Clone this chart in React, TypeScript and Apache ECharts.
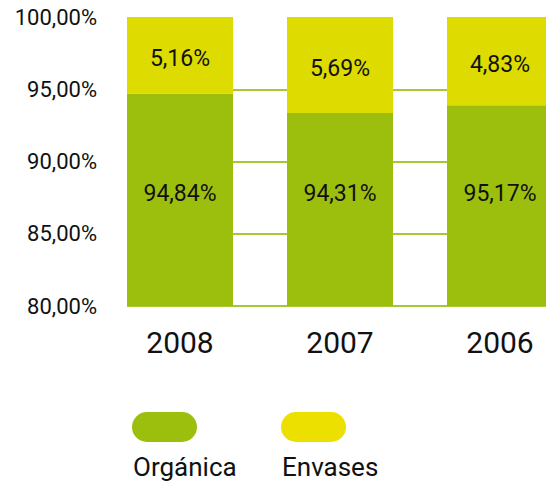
import React, { useEffect, useRef } from "react";
import * as echarts from "echarts";

const years = ["2008", "2007", "2006"];
// bar heights as drawn in the picture (%)
const organicaDrawn = [94.7, 93.35, 93.9];
// printed labels
const organicaLabels = ["94,84%", "94,31%", "95,17%"];
const envasesLabels = ["5,16%", "5,69%", "4,83%"];
const envasesDrawn = organicaDrawn.map((v) => +(100 - v).toFixed(2));
const yTicks = [80, 85, 90, 95, 100];
const legendNames = ["Orgánica", "Envases"];

const GREEN = "#9cbf0d";
const YELLOW = "#dedb00";
const FONT = "Roboto";

export default function App() {
  const ref = useRef<HTMLDivElement>(null);
  useEffect(() => {
    document.body.style.margin = "0";
    document.body.style.overflow = "hidden";
    const chart = echarts.init(ref.current!, null, { renderer: "svg" });
    const top = 17;
    const bottom = 176;
    const plotH = 482 - top - bottom;
    const y95 = top + (plotH * 5) / 20;
    chart.setOption({
      animation: false,
      textStyle: { fontFamily: FONT },
      grid: [
        { left: 100, right: 0, top, bottom },
        { left: 127, right: 0, top: y95, bottom },
      ],
      xAxis: [
        {
          type: "category",
          gridIndex: 0,
          data: years,
          axisLine: { show: false },
          axisTick: { show: false },
          axisLabel: { fontSize: 30, color: "#111", margin: 21, fontFamily: FONT },
        },
        { type: "value", gridIndex: 1, show: false, min: 0, max: 1 },
      ],
      yAxis: [
        {
          type: "value",
          gridIndex: 0,
          min: yTicks[0],
          max: yTicks[yTicks.length - 1],
          interval: 5,
          splitLine: { show: false },
          axisLine: { show: false },
          axisTick: { show: false },
          axisLabel: {
            fontSize: 22,
            color: "#111",
            margin: 3,
            fontFamily: FONT,
            formatter: (v: number) => v.toFixed(2).replace(".", ",") + "%",
          },
        },
        {
          type: "value",
          gridIndex: 1,
          min: 80,
          max: 95,
          interval: 5,
          axisLine: { show: false },
          axisTick: { show: false },
          axisLabel: { show: false },
          splitLine: { show: true, lineStyle: { color: "#a8c830", width: 2 } },
        },
      ],
      series: [
        {
          name: legendNames[0],
          type: "bar",
          stack: "t",
          barWidth: 106,
          data: organicaDrawn,
          itemStyle: { color: GREEN },
          label: {
            show: true,
            position: "insideBottom",
            distance: 101,
            fontSize: 23,
            color: "#111",
            fontFamily: FONT,
            formatter: (p: any) => organicaLabels[p.dataIndex],
          },
        },
        {
          name: legendNames[1],
          type: "bar",
          stack: "t",
          barWidth: 106,
          data: envasesDrawn,
          itemStyle: { color: YELLOW },
          label: {
            show: true,
            position: "inside",
            offset: [0, 3],
            fontSize: 23,
            color: "#111",
            fontFamily: FONT,
            formatter: (p: any) => envasesLabels[p.dataIndex],
          },
        },
      ],
      graphic: [
        { type: "rect", left: 132, top: 412, shape: { width: 65, height: 30, r: 15 }, style: { fill: GREEN } },
        { type: "rect", left: 281, top: 412, shape: { width: 65, height: 30, r: 15 }, style: { fill: "#ebe000" } },
        {
          type: "text",
          left: 133,
          top: 454,
          style: { text: legendNames[0], fontSize: 26, fill: "#111", fontFamily: FONT },
        },
        {
          type: "text",
          left: 282,
          top: 454,
          style: { text: legendNames[1], fontSize: 26, fill: "#111", fontFamily: FONT },
        },
      ],
    });
    return () => chart.dispose();
  }, []);
  return <div ref={ref} style={{ width: 580, height: 482 }} />;
}
